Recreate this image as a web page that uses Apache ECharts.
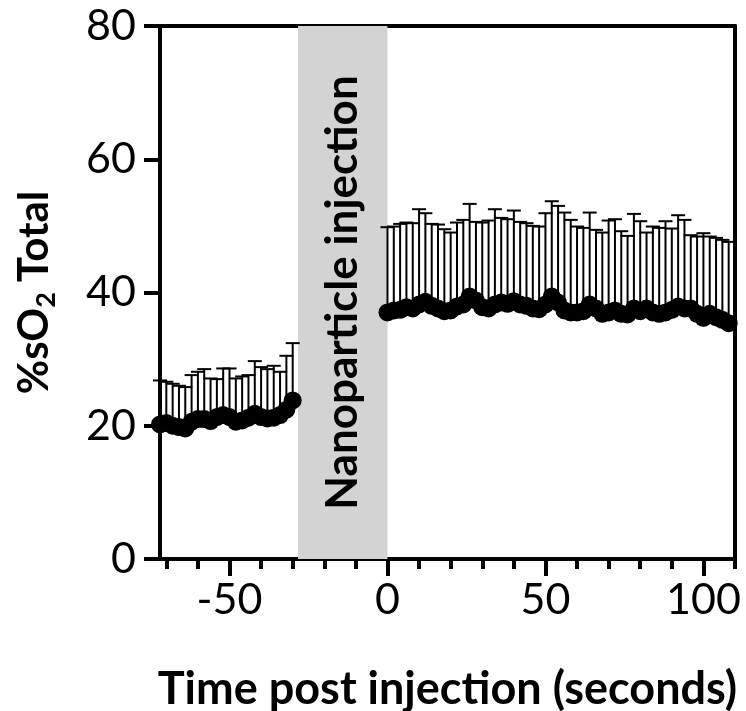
<!DOCTYPE html>
<html>
<head>
<meta charset="utf-8">
<script src="https://cdn.jsdelivr.net/npm/echarts@6/dist/echarts.min.js"></script>
<style>
html, body { margin: 0; padding: 0; background: #fff; }
#chart { width: 746px; height: 711px; }
</style>
</head>
<body>
<div id="chart"></div>
<script>
// before injection
var preTime = [-72, -70, -68, -66, -64, -62, -60, -58, -56, -54, -52, -50, -48, -46, -44, -42, -40, -38, -36, -34, -32, -30];
var preMean = [20.2, 20.4, 20.0, 19.8, 19.6, 20.6, 21.0, 21.0, 20.7, 21.3, 21.6, 21.3, 20.6, 20.8, 21.2, 21.8, 21.3, 21.1, 21.2, 21.6, 22.4, 23.8];
var preUpper = [26.8, 26.6, 26.3, 26.0, 25.8, 27.6, 28.1, 28.5, 27.1, 27.0, 28.6, 28.6, 27.1, 27.4, 27.6, 29.7, 28.8, 28.5, 29.0, 28.1, 30.5, 32.4];

// after injection
var postTime = [0, 2, 4, 6, 8, 10, 12, 14, 16, 18, 20, 22, 24, 26, 28, 30, 32, 34, 36, 38, 40, 42, 44, 46, 48, 50, 52, 54,
  56, 58, 60, 62, 64, 66, 68, 70, 72, 74, 76, 78, 80, 82, 84, 86, 88, 90, 92, 94, 96, 98, 100, 102, 104, 106, 108];
var postMean = [37.0, 37.3, 37.4, 37.8, 37.6, 38.2, 38.6, 38.0, 37.6, 37.2, 37.3, 37.9, 38.2, 39.4, 38.8, 37.8, 37.6, 38.2,
  38.5, 38.3, 38.7, 38.2, 38.0, 37.6, 37.5, 38.2, 39.4, 38.5, 37.3, 37.0, 37.0, 37.2, 38.2, 37.6, 36.8, 37.0, 37.3, 36.8,
  36.7, 37.6, 37.2, 37.6, 37.0, 36.8, 37.0, 37.4, 37.9, 37.6, 37.6, 36.8, 36.2, 36.8, 36.3, 35.9, 35.4];
var postUpper = [49.8, 49.9, 50.3, 50.5, 50.4, 52.5, 51.9, 50.3, 50.2, 49.5, 49.0, 50.5, 50.9, 53.3, 50.6, 50.5, 50.8, 52.5,
  51.2, 51.0, 52.3, 50.6, 50.4, 50.0, 49.9, 51.9, 53.7, 53.0, 52.0, 50.9, 49.9, 49.7, 52.0, 49.4, 49.0, 50.8, 51.0, 49.2,
  48.5, 51.8, 50.7, 49.0, 49.9, 49.7, 50.7, 49.6, 51.6, 50.9, 48.6, 48.4, 48.9, 48.4, 48.2, 47.9, 47.6];

var injectionBand = [-28.3, 0];
var xLabelValues = [-50, 0, 50, 100];
var xMinorTicks = [-70, -60, -40, -30, -20, -10, 10, 20, 30, 40, 60, 70, 80, 90, 110];
var xMajorTicks = [-50, 0, 50, 100];

var font = 'Lato';
var black = '#000';
var chart = echarts.init(document.getElementById('chart'));

var points = [];
var bars = [];
preTime.forEach(function (t, i) {
  points.push([t, preMean[i]]);
  bars.push([t, preMean[i], preUpper[i]]);
});
postTime.forEach(function (t, i) {
  points.push([t, postMean[i]]);
  bars.push([t, postMean[i], postUpper[i]]);
});

function renderBar(params, api) {
  var x = api.value(0);
  var top = api.coord([x, api.value(2)]);
  var bot = api.coord([x, api.value(1)]);
  var half = 7;
  var style = { stroke: black, lineWidth: 2 };
  return {
    type: 'group',
    children: [
      { type: 'line', shape: { x1: top[0], y1: top[1], x2: bot[0], y2: bot[1] }, style: style },
      { type: 'line', shape: { x1: top[0] - half, y1: top[1], x2: top[0] + half, y2: top[1] }, style: style }
    ]
  };
}

// plain frame axes (top and right edges of the box)
function frameAxis(pos) {
  return {
    type: 'value',
    position: pos,
    min: pos === 'top' ? -72 : 0,
    max: pos === 'top' ? 110 : 80,
    axisLine: { show: true, onZero: false, lineStyle: { color: black, width: 4 } },
    axisTick: { show: false },
    axisLabel: { show: false },
    splitLine: { show: false }
  };
}

var option = {
  animation: false,
  grid: { left: 160, right: 11, top: 26, bottom: 152, outerBoundsMode: 'none', containLabel: false },
  xAxis: [{
    type: 'value',
    min: -72,
    max: 110,
    axisLine: { onZero: false, lineStyle: { color: black, width: 4 } },
    axisTick: { customValues: xMinorTicks, length: 10, lineStyle: { color: black, width: 4 } },
    axisLabel: { customValues: xLabelValues, fontSize: 43, color: black, margin: 20, fontFamily: font },
    splitLine: { show: false },
    name: 'Time post injection (seconds)',
    nameLocation: 'middle',
    nameGap: 108,
    nameTextStyle: { fontSize: 45, fontWeight: 'bold', color: black, fontFamily: font }
  }, {
    type: 'value',
    min: -72,
    max: 110,
    position: 'bottom',
    axisLine: { show: false, onZero: false },
    axisTick: { customValues: xMajorTicks, length: 17, lineStyle: { color: black, width: 4 } },
    axisLabel: { show: false },
    splitLine: { show: false }
  }, frameAxis('top')],
  yAxis: [{
    type: 'value',
    min: 0,
    max: 80,
    interval: 20,
    axisLine: { show: true, onZero: false, lineStyle: { color: black, width: 4 } },
    axisTick: { show: true, length: 16, lineStyle: { color: black, width: 4 } },
    axisLabel: { fontSize: 43, color: black, margin: 24, fontFamily: font },
    splitLine: { show: false },
    name: '{a|%sO}{sub|2}{a| Total}',
    nameLocation: 'middle',
    nameGap: 100,
    nameRotate: 90,
    nameTextStyle: {
      rich: {
        a: { fontSize: 42, fontWeight: 'bold', color: black, fontFamily: font, lineHeight: 52 },
        sub: { fontSize: 27, fontWeight: 'bold', color: black, fontFamily: font, lineHeight: 27, verticalAlign: 'bottom' }
      }
    }
  }, frameAxis('right')],
  series: [{
    type: 'line',
    data: [],
    z: 0,
    markArea: {
      silent: true,
      itemStyle: { color: '#d3d3d3' },
      label: {
        show: true,
        position: 'inside',
        rotate: 90,
        formatter: 'Nanoparticle injection',
        fontSize: 44,
        fontWeight: 'bold',
        color: black,
        fontFamily: font
      },
      data: [[{ xAxis: injectionBand[0], yAxis: 0 }, { xAxis: injectionBand[1], yAxis: 80 }]]
    }
  }, {
    type: 'custom',
    renderItem: renderBar,
    data: bars,
    z: 2
  }, {
    type: 'scatter',
    data: points,
    symbolSize: 18,
    itemStyle: { color: black, opacity: 1 },
    z: 3
  }]
};

chart.setOption(option);
window.addEventListener('resize', function () { chart.resize(); });
</script>
</body>
</html>
